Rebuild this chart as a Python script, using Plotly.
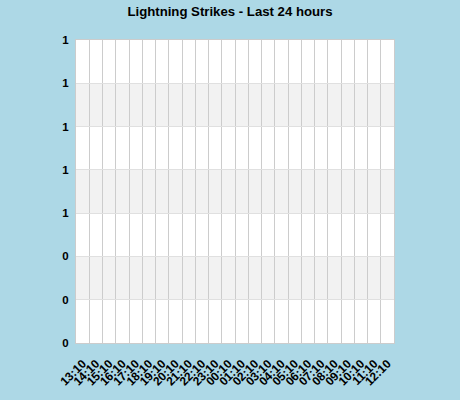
import plotly.graph_objects as go

# hourly buckets shown on the x axis
HOURS = ["13:10", "14:10", "15:10", "16:10", "17:10", "18:10", "19:10", "20:10",
         "21:10", "22:10", "23:10", "00:10", "01:10", "02:10", "03:10", "04:10",
         "05:10", "06:10", "07:10", "08:10", "09:10", "10:10", "11:10", "12:10"]
# no strikes recorded in the last 24 hours
STRIKES = [0, 0, 0, 0, 0, 0, 0, 0, 0, 0, 0, 0,
           0, 0, 0, 0, 0, 0, 0, 0, 0, 0, 0, 0]
Y_TICKS = [0, 0.2, 0.4, 0.6, 0.8, 1.0, 1.2, 1.4]

BG = "#add8e6"
FONT = "Liberation Sans, Arial, sans-serif"

fig = go.Figure()
fig.add_trace(go.Bar(x=HOURS, y=STRIKES, marker=dict(color="#4572a7", line=dict(width=0)),
                     showlegend=False, hoverinfo="skip"))

# alternating grey bands
for lo, hi in [(0.2, 0.4), (0.6, 0.8), (1.0, 1.2)]:
    fig.add_shape(type="rect", xref="paper", yref="y", x0=0, x1=1, y0=lo, y1=hi,
                  fillcolor="#f2f2f2", line_width=0, layer="below")

fig.update_layout(
    width=460, height=400,
    paper_bgcolor=BG, plot_bgcolor="white",
    margin=dict(l=76, r=66, t=40, b=55),
    title=dict(text="<b>Lightning Strikes - Last 24 hours</b>", x=0.5, xanchor="center",
               y=0.972, yanchor="middle", font=dict(family=FONT, size=13.2, color="black")),
    font=dict(family=FONT, size=11, color="black"),
)
fig.update_xaxes(
    type="category", tickson="boundaries", tickmode="linear", tick0=0, dtick=1,
    showgrid=True, gridcolor="#cccccc", gridwidth=1,
    tickangle=-45, ticks="", tickfont=dict(family=FONT, size=12, color="black", weight="bold"),
    ticklabelstandoff=8,
    showline=True, linecolor="#cccccc", mirror=True, zeroline=False,
)
fig.update_yaxes(
    range=[0, 1.4], tickvals=Y_TICKS, tickformat=".0f", showgrid=True, gridcolor="#e0e0e0",
    tickfont=dict(family=FONT, size=11.5, color="black", weight="bold"), ticks="",
    ticklabelstandoff=4, showline=True, linecolor="#cccccc", mirror=True, zeroline=False,
)

# page body margin would shift the chart; drop it
fig.write_html("out.html", config={"displayModeBar": False},
               post_script="document.body.style.margin='0';")
